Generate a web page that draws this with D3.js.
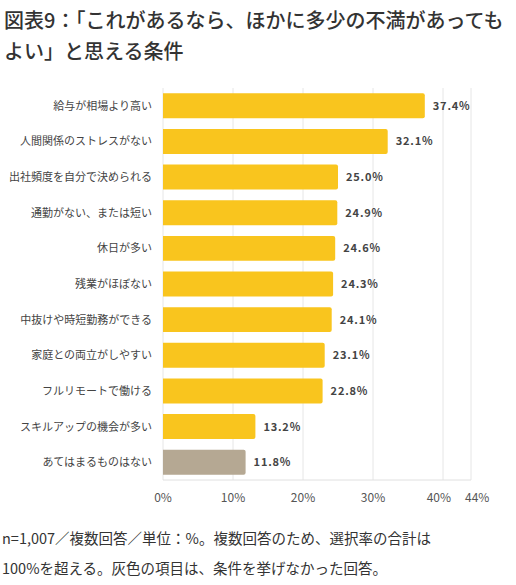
<!DOCTYPE html><html><head><meta charset="utf-8">
<script src="https://cdn.jsdelivr.net/npm/d3@7"></script>
<style>body{margin:0;background:#fff;font-family:"Noto Sans CJK JP",sans-serif;}</style></head><body>
<svg id="c" width="516" height="585"></svg>
<script>
const categories=["給与が相場より高い","人間関係のストレスがない","出社頻度を自分で決められる","通勤がない、または短い","休日が多い","残業がほぼない","中抜けや時短勤務ができる","家庭との両立がしやすい","フルリモートで働ける","スキルアップの機会が多い","あてはまるものはない"];
const values=[37.4,32.1,25.0,24.9,24.6,24.3,24.1,23.1,22.8,13.2,11.8];
const ticks=[0,10,20,30,40,44];
const svg=d3.select("#c");
svg.append("text").attr("x",4).attr("y",28).attr("font-size",20).attr("font-weight",500).attr("fill","#333").text("図表9：「これがあるなら、ほかに多少の不満があっても");
svg.append("text").attr("x",4).attr("y",59).attr("font-size",20).attr("font-weight",500).attr("fill","#333").text("よい」と思える条件");
const x=d3.scaleLinear().domain([0,44]).range([163,471]);
const y=d3.scaleBand().domain(categories).range([88,480]).paddingInner(0.3).paddingOuter(0.15);
const g=svg.append("g");
g.selectAll(".grid").data(ticks).join("line").attr("x1",d=>x(d)).attr("x2",d=>x(d)).attr("y1",88).attr("y2",480).attr("stroke","#e6e6e6");
g.append("line").attr("x1",163).attr("x2",471).attr("y1",480).attr("y2",480).attr("stroke","#e0e0e0");
g.selectAll("path.bar").data(values).join("path").attr("fill",(d,i)=>i===values.length-1?"#B5A893":"#F9C51E")
 .attr("d",(d,i)=>{const x0=x(0),x1=x(d),y0=y(categories[i]),h=y.bandwidth(),r=2;
  return `M${x0},${y0}H${x1-r}Q${x1},${y0} ${x1},${y0+r}V${y0+h-r}Q${x1},${y0+h} ${x1-r},${y0+h}H${x0}Z`;});
g.selectAll("text.v").data(values).join("text").attr("x",d=>x(d)+8).attr("y",(d,i)=>y(categories[i])+y.bandwidth()/2+4)
 .attr("font-size",11).attr("font-weight",700).attr("fill","#444").attr("letter-spacing",0.8).text(d=>d.toFixed(1)+"%");
g.selectAll("text.c").data(categories).join("text").attr("x",152).attr("y",d=>y(d)+y.bandwidth()/2+4)
 .attr("text-anchor","end").attr("font-size",11).attr("fill","#444").text(d=>d);
g.selectAll("text.t").data(ticks).join("text").attr("x",d=>x(d)).attr("y",502).attr("text-anchor",d=>d===40?"end":d===44?"start":"middle")
 .attr("dx",d=>d===40?8:d===44?-6:0).attr("font-size",12).attr("fill","#555").text(d=>d+"%");
svg.append("text").attr("x",2).attr("y",544).attr("font-size",14.5).attr("fill","#333").text("n=1,007／複数回答／単位：%。複数回答のため、選択率の合計は");
svg.append("text").attr("x",2).attr("y",574).attr("font-size",14.5).attr("fill","#333").text("100%を超える。灰色の項目は、条件を挙げなかった回答。");
</script></body></html>
